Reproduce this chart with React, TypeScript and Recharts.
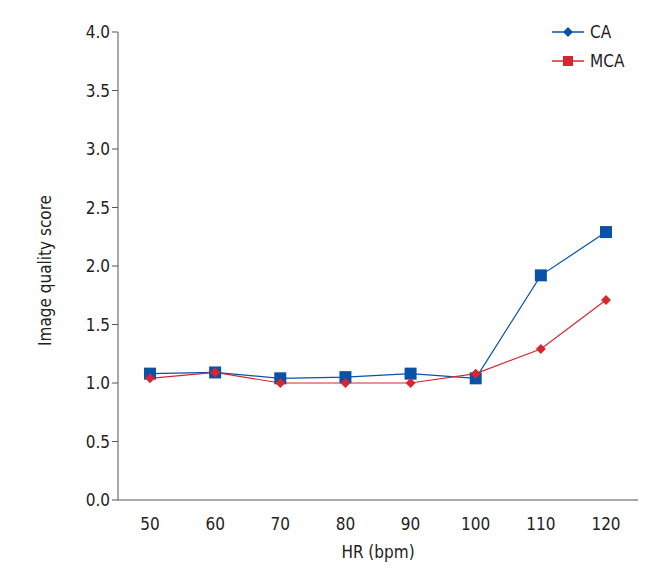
import { LineChart, Line, XAxis, YAxis } from "recharts";

const hr = ["50", "60", "70", "80", "90", "100", "110", "120"];
const ca = [1.08, 1.09, 1.04, 1.05, 1.08, 1.04, 1.92, 2.29];
const mca = [1.04, 1.09, 1.0, 1.0, 1.0, 1.08, 1.29, 1.71];
const yTicks = [0, 0.5, 1, 1.5, 2, 2.5, 3, 3.5, 4];

const data = hr.map((h, i) => ({ hr: h, CA: ca[i], MCA: mca[i] }));

const FONT = "'DejaVu Sans Condensed', 'Liberation Sans Narrow', sans-serif";
const BLUE = "#0a52a8";
const RED = "#d7262f";

const Square = (props: any) => {
  const { cx, cy } = props;
  return <rect x={cx - 6} y={cy - 6} width={12} height={12} fill={BLUE} />;
};
const Diamond = (props: any) => {
  const { cx, cy } = props;
  return <path d={`M${cx},${cy - 5}L${cx + 5},${cy}L${cx},${cy + 5}L${cx - 5},${cy}Z`} fill={RED} />;
};

function LegendBox() {
  const row = (color: string, label: string, icon: "d" | "s") => (
    <div style={{ display: "flex", alignItems: "center", height: 29 }}>
      <svg width={32} height={12}>
        <line x1={0} y1={6} x2={32} y2={6} stroke={color} strokeWidth={1.5} />
        {icon === "d" ? (
          <path d="M16,1L21,6L16,11L11,6Z" fill={color} />
        ) : (
          <rect x={11} y={1} width={10} height={10} fill={color} />
        )}
      </svg>
      <span style={{ marginLeft: 6, fontSize: 17, color: "#222" }}>{label}</span>
    </div>
  );
  return (
    <div style={{ fontFamily: FONT, position: "absolute", left: 552, top: 17 }}>
      {row(BLUE, "CA", "d")}
      {row(RED, "MCA", "s")}
    </div>
  );
}

export default function App() {
  return (
    <div style={{ margin: -8, width: 659, height: 575, position: "relative", background: "#fff" }}>
      <div style={{ position: "absolute", right: 3, top: 0, bottom: 0, borderRight: "1px solid #bbb" }} />
      <LineChart
        width={659}
        height={575}
        data={data}
        margin={{ top: 32, right: 21, bottom: 45, left: 58 }}
        style={{ fontFamily: FONT }}
      >
        <XAxis
          dataKey="hr"
          tickLine={false}
          axisLine={{ stroke: "#555" }}
          padding={{ left: 32, right: 32 }}
          tick={{ fill: "#222", fontSize: 17 }}
          tickMargin={12}
          label={{ value: "HR (bpm)", position: "insideBottom", offset: -28, fill: "#222", fontSize: 17 }}
        />
        <YAxis
          domain={[0, 4]}
          ticks={yTicks}
          tickFormatter={(v: number) => v.toFixed(1)}
          axisLine={{ stroke: "#555" }}
          tickLine={{ stroke: "#555" }}
          tickSize={6}
          tick={{ fill: "#222", fontSize: 17 }}
          width={60}
          label={{ value: "Image quality score", angle: -90, position: "insideLeft", dx: -18, dy: 80, fill: "#222", fontSize: 17 }}
        />
        <Line dataKey="CA" stroke={BLUE} strokeWidth={1.2} dot={<Square />} activeDot={false} isAnimationActive={false} />
        <Line dataKey="MCA" stroke={RED} strokeWidth={1.2} dot={<Diamond />} activeDot={false} isAnimationActive={false} />
      </LineChart>
      <LegendBox />
    </div>
  );
}
